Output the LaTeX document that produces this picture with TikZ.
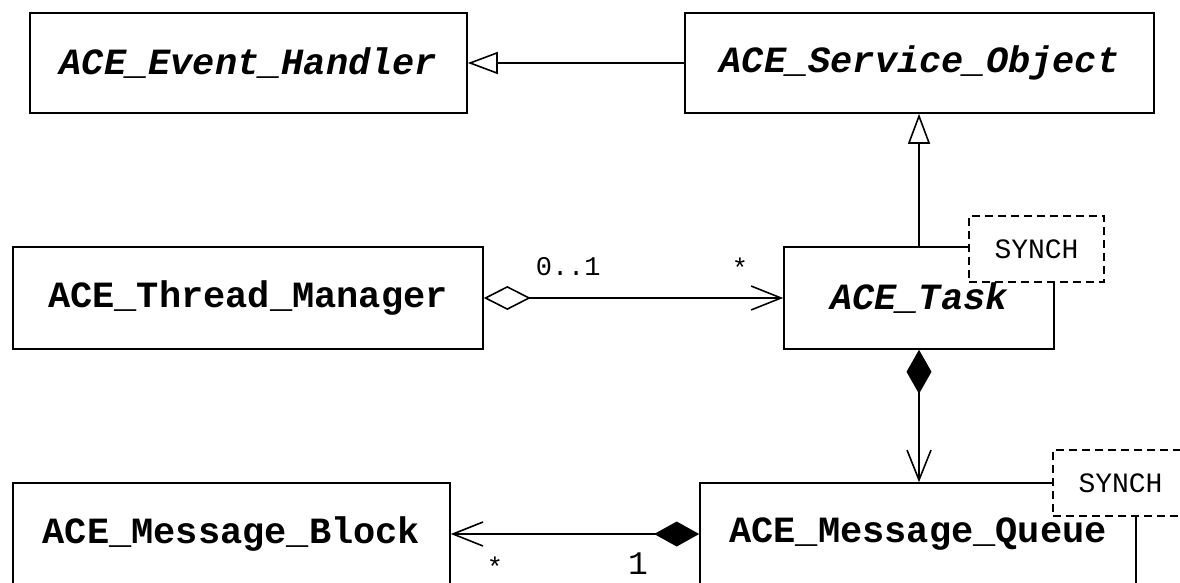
\documentclass[tikz,border=0pt]{standalone}
\usepackage{fontspec}
\setmonofont{Liberation Mono}
\usetikzlibrary{arrows.meta}

\begin{document}
\begin{tikzpicture}[x=1pt,y=-1pt,line width=1.6pt,
    cls/.style={draw,minimum height=102pt,inner sep=0pt,
      font=\ttfamily\bfseries\fontsize{37}{40}\selectfont},
    abstract/.style={cls,font=\ttfamily\bfseries\itshape\fontsize{37}{40}\selectfont},
    synch/.style={draw,dash pattern=on 8pt off 5pt,fill=white,minimum width=135pt,
      minimum height=66pt,inner sep=0pt,font=\ttfamily\fontsize{28}{30}\selectfont},
    mult/.style={inner sep=0pt,font=\ttfamily\fontsize{27}{30}\selectfont},
    inherit/.style={-{Triangle[open,length=30pt,width=22pt]}},
    barb/.tip={Straight Barb[length=30pt,width=24pt]}]
  \useasboundingbox (0,0) rectangle (1180,583);
  \clip (0,0) rectangle (1180,583);

  % The classes
  \node[abstract,minimum width=437pt,minimum height=100pt] (evh) at (248.5,63) {ACE\_Event\_Handler};
  \node[abstract,minimum width=469pt,minimum height=100pt] (svc) at (919.5,63) {ACE\_Service\_Object};
  \node[cls,minimum width=470pt] (thr) at (248,298) {ACE\_Thread\_Manager};
  \node[abstract,minimum width=270pt] (task) at (919,298) {ACE\_Task};
  \node[cls,minimum width=437pt] (blk) at (231.5,534) {ACE\_Message\_Block};
  \node[cls,minimum width=436pt] (que) at (918,534) {ACE\_Message\_Queue};

  % The template parameters
  \node[synch] (tsy) at (1036.5,249) {SYNCH};
  \node[synch] (qsy) at (1120.5,483) {SYNCH};

  % Inheritance
  \draw[inherit] (svc) -- (evh);
  \draw[inherit] (task.north) -- (task.north |- svc.south);

  % Aggregation and composition
  \draw[{Diamond[open,length=47pt,width=24pt]}-barb] (thr) -- (task);
  \draw[{Diamond[length=44pt,width=25pt]}-barb] (task.south) -- (task.south |- que.north);
  \draw[barb-{Diamond[length=45pt,width=25pt]}] (blk) -- (que);

  % Multiplicities
  \node[mult,anchor=north west] (m01) at (535,257) {0..1};
  \node[mult,anchor=north] (mtsk) at (740,257) {*};
  \node[mult,anchor=north] (mblk) at (495,556) {*};
  \node[mult,anchor=north,font=\ttfamily\fontsize{33}{36}\selectfont] (mque) at (638,552) {1};
\end{tikzpicture}
\end{document}
